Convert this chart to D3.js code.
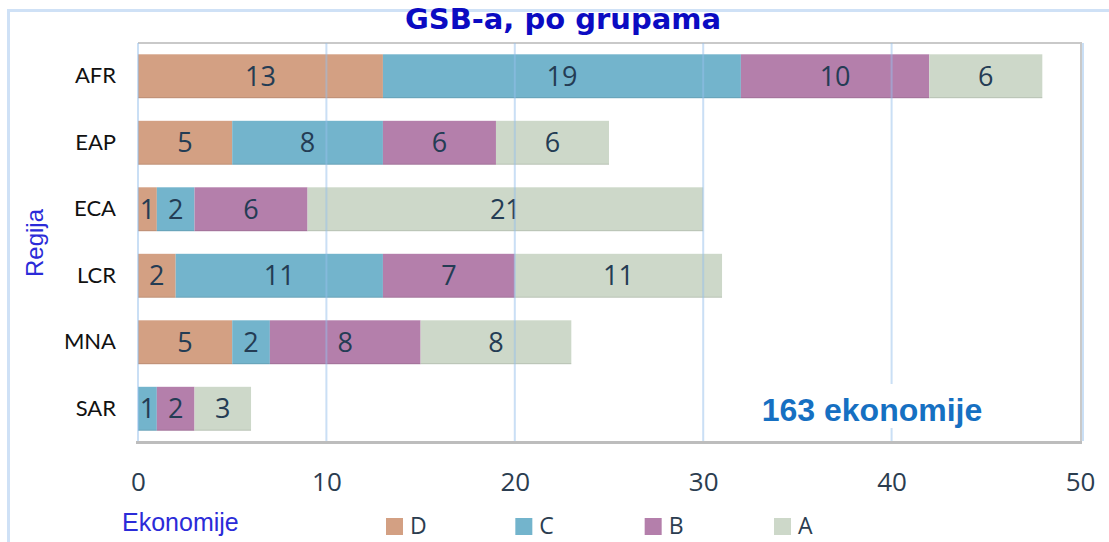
<!DOCTYPE html>
<html>
<head>
<meta charset="utf-8">
<script src="https://cdn.jsdelivr.net/npm/d3@7"></script>
<style>
    body { margin: 0; background: #fff; }
    svg { display: block; }
</style>
</head>
<body>
<div class="bar_chart"></div>
<script>
// data
const regions = ["AFR", "EAP", "ECA", "LCR", "MNA", "SAR"];
const groups = ["D", "C", "B", "A"];
const valuesD = [13, 5, 1, 2, 5, 0];
const valuesC = [19, 8, 2, 11, 2, 1];
const valuesB = [10, 6, 6, 7, 8, 2];
const valuesA = [6, 6, 21, 11, 8, 3];
const xTicks = [0, 10, 20, 30, 40, 50];
const titleText = "GSB-a, po grupama";
const noteText = "163 ekonomije";

const colors = {
    D: "#d3a083",
    C: "#73b4cc",
    B: "#b47fab",
    A: "#cdd8c9"
};

// build rows for the stack
const table = regions.map((r, i) => ({
    region: r,
    D: valuesD[i],
    C: valuesC[i],
    B: valuesB[i],
    A: valuesA[i]
}));

const W = 1109, H = 542;
const plot = { left: 138, right: 1080, top: 43, bottom: 442 };

let svg = d3.select(".bar_chart")
    .append("svg")
    .attr("width", W)
    .attr("height", H);

// outer light blue frame
svg.append("rect")
    .attr("x", 8.5)
    .attr("y", 10.5)
    .attr("width", W + 20)
    .attr("height", H + 20)
    .attr("fill", "none")
    .attr("stroke", "#cfe1f6")
    .attr("stroke-width", 3);

let xScale = d3.scaleLinear()
    .domain([0, 50])
    .range([plot.left, plot.right]);

let yScale = d3.scaleBand()
    .domain(regions)
    .range([plot.top, plot.bottom])
    .paddingInner(0.34)
    .paddingOuter(0.17);

// plot box
svg.append("path")
    .attr("d", `M${plot.left},${plot.top}H${plot.right + 1}V${plot.bottom}`)
    .attr("fill", "none")
    .attr("stroke", "#c9c9c9")
    .attr("stroke-width", 2);
svg.append("line")
    .attr("x1", plot.left - 2)
    .attr("x2", plot.right + 2)
    .attr("y1", plot.bottom + 0.5)
    .attr("y2", plot.bottom + 0.5)
    .attr("stroke", "#bdbdbd")
    .attr("stroke-width", 3);

let stack = d3.stack().keys(groups);
let stacked = stack(table);

let layers = svg.append("g")
    .selectAll("g")
    .data(stacked)
    .join("g")
    .attr("fill", d => colors[d.key]);

layers.selectAll("rect")
    .data(d => d.map(s => ({ key: d.key, s })))
    .join("rect")
    .attr("x", d => xScale(d.s[0]))
    .attr("y", d => yScale(d.s.data.region))
    .attr("width", d => xScale(d.s[1]) - xScale(d.s[0]))
    .attr("height", yScale.bandwidth());

// subtle darker bottom edge on the bars
layers.selectAll("line")
    .data(d => d.map(s => ({ key: d.key, s })).filter(d => d.s[1] > d.s[0]))
    .join("line")
    .attr("x1", d => xScale(d.s[0]))
    .attr("x2", d => xScale(d.s[1]))
    .attr("y1", d => yScale(d.s.data.region) + yScale.bandwidth() - 0.5)
    .attr("y2", d => yScale(d.s.data.region) + yScale.bandwidth() - 0.5)
    .attr("stroke", "rgba(0,0,0,0.1)")
    .attr("stroke-width", 1);

// gridlines sit on top of the bars
svg.append("g")
    .selectAll("line")
    .data(xTicks)
    .join("line")
    .attr("x1", d => xScale(d) + (d === 50 ? 3 : 0))
    .attr("x2", d => xScale(d) + (d === 50 ? 3 : 0))
    .attr("y1", plot.top)
    .attr("y2", plot.bottom - 1)
    .attr("stroke", "rgba(150,192,236,0.5)")
    .attr("stroke-width", 2);

// bar value labels
layers.selectAll("text")
    .data(d => d.map(s => ({ key: d.key, s })).filter(d => d.s[1] > d.s[0]))
    .join("text")
    .attr("x", d => (xScale(d.s[0]) + xScale(d.s[1])) / 2)
    .attr("y", d => yScale(d.s.data.region) + yScale.bandwidth() / 2)
    .attr("dy", "0.36em")
    .attr("text-anchor", "middle")
    .attr("fill", "#243c54")
    .style("font-family", "'Open Sans', sans-serif")
    .style("font-size", "27px")
    .text(d => d.s[1] - d.s[0]);

// note with white background
let note = svg.append("g").attr("transform", "translate(872,421)");
note.append("rect")
    .attr("x", -116)
    .attr("y", -37)
    .attr("width", 232)
    .attr("height", 44)
    .attr("fill", "#fff");
note.append("text")
    .attr("text-anchor", "middle")
    .attr("fill", "#1670c2")
    .style("font-family", "'Liberation Sans', Arial, sans-serif")
    .style("font-weight", "bold")
    .style("font-size", "32px")
    .text(noteText);

// y axis labels
const yAxis = d3.axisLeft(yScale).tickSize(0).tickPadding(22);
let yDisplay = svg.append("g")
    .attr("transform", `translate(${plot.left},0)`)
    .call(yAxis);
yDisplay.select(".domain").remove();
yDisplay.selectAll("text")
    .attr("fill", "#111")
    .style("font-family", "Lato, sans-serif")
    .style("font-size", "22px");

// x axis tick labels
const xAxis = d3.axisBottom(xScale).tickValues(xTicks).tickSize(0).tickPadding(30);
let xDisplay = svg.append("g")
    .attr("transform", `translate(0,${plot.bottom})`)
    .call(xAxis);
xDisplay.select(".domain").remove();
xDisplay.selectAll("text")
    .attr("fill", "#2b3d50")
    .attr("dy", 0)
    .attr("y", 49)
    .style("font-family", "'Open Sans', sans-serif")
    .style("font-size", "26px");

// title
svg.append("text")
    .attr("x", 563)
    .attr("y", 29)
    .attr("text-anchor", "middle")
    .attr("fill", "#0b0bc2")
    .style("font-family", "'DejaVu Sans', sans-serif")
    .style("font-weight", "bold")
    .style("font-size", "29px")
    .text(titleText);

// axis titles
svg.append("text")
    .attr("transform", "translate(43,243) rotate(-90)")
    .attr("text-anchor", "middle")
    .attr("fill", "#2b2bd8")
    .style("font-family", "'Liberation Sans', Arial, sans-serif")
    .style("font-size", "24px")
    .text("Regija");

svg.append("text")
    .attr("x", 122)
    .attr("y", 531)
    .attr("fill", "#2b2bd8")
    .style("font-family", "'Liberation Sans', Arial, sans-serif")
    .style("font-size", "25px")
    .text("Ekonomije");

// legend
const legendX = d3.scalePoint().domain(groups).range([386, 774]);
let legend = svg.append("g")
    .selectAll("g")
    .data(groups)
    .join("g")
    .attr("transform", d => `translate(${legendX(d)},518)`);
legend.append("rect")
    .attr("width", 17)
    .attr("height", 17)
    .attr("fill", d => colors[d]);
legend.append("text")
    .attr("x", 24)
    .attr("y", 16)
    .attr("fill", "#2b3d50")
    .style("font-family", "'Open Sans', sans-serif")
    .style("font-size", "23px")
    .text(d => d);
</script>
</body>
</html>
